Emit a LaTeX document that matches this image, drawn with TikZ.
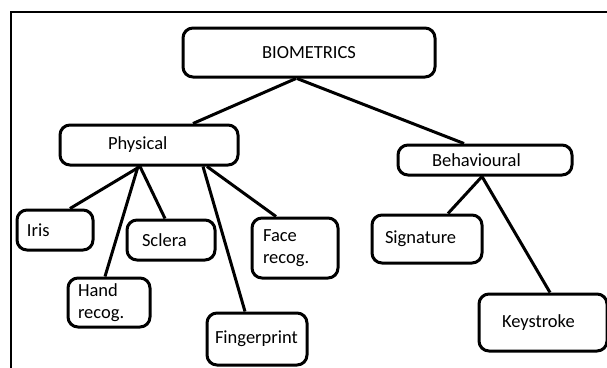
\documentclass[tikz,border=0pt]{standalone}
\usepackage{fontspec}
\setmainfont{Carlito}
\begin{document}
\begin{tikzpicture}[
			x=1pt, y=-1pt,
			blk/.style={draw, line width=3pt, rounded corners=10pt, align=left, inner ysep=0pt, font=\fontsize{18.5}{22}\selectfont},
			link/.style={line width=3pt}
		]
		\useasboundingbox (0,0) rectangle (607,367);
		\draw[line width=2.2pt] (11,368) -- (11,12) -- (608,12);
		\node[blk, align=center, inner xsep=10pt, text width=232pt, minimum height=49pt] (bio) at (309,52.5) {BIOMETRICS};
		\node[blk, inner xsep=48pt, text width=82pt, minimum height=40pt] (phys) at (149,145) {Physical};
		\node[blk, inner xsep=34pt, text width=106pt, minimum height=30pt] (behav) at (485,160) {Behavioural};
		\node[blk, inner xsep=10pt, text width=56pt, minimum height=40pt] (iris) at (55,230) {Iris};
		\node[blk, inner xsep=15pt, text width=58pt, minimum height=40pt] (sclera) at (171,240) {Sclera};
		\node[blk, inner xsep=11pt, text width=64pt, minimum height=60pt] (face) at (295,248) {Face\\recog.};
		\node[blk, inner xsep=10pt, text width=62pt, minimum height=49pt] (hand) at (109,302.5) {Hand\\recog.};
		\node[blk, inner xsep=8pt, text width=84pt, minimum height=52pt] (finger) at (257,339) {Fingerprint};
		\node[blk, inner xsep=13pt, text width=84pt, minimum height=48pt] (sign) at (427,239) {Signature};
		\node[blk, inner xsep=23pt, text width=82pt, minimum height=57pt] (keys) at (543,322.5) {Keystroke};
		\draw[link] ([xshift=-13pt]bio.south) -- ([xshift=44pt]phys.north);
		\draw[link] ([xshift=-12pt]bio.south) -- ([xshift=-21pt]behav.north);
		\draw[link] ([xshift=-9pt]phys.south) -- ([xshift=15pt]iris.north);
		\draw[link] ([xshift=-9pt]phys.south) -- ([xshift=-6pt]sclera.north);
		\draw[link] ([xshift=-11pt]phys.south) -- ([xshift=-4pt]hand.north);
		\draw[link] ([xshift=54pt]phys.south) -- ([xshift=-12pt]finger.north);
		\draw[link] ([xshift=58pt]phys.south) -- ([xshift=-19pt]face.north);
		\draw[link] ([xshift=-3pt]behav.south) -- ([xshift=21pt]sign.north);
		\draw[link] ([xshift=-3pt]behav.south) -- ([xshift=7pt]keys.north);
	\end{tikzpicture}
\end{document}
